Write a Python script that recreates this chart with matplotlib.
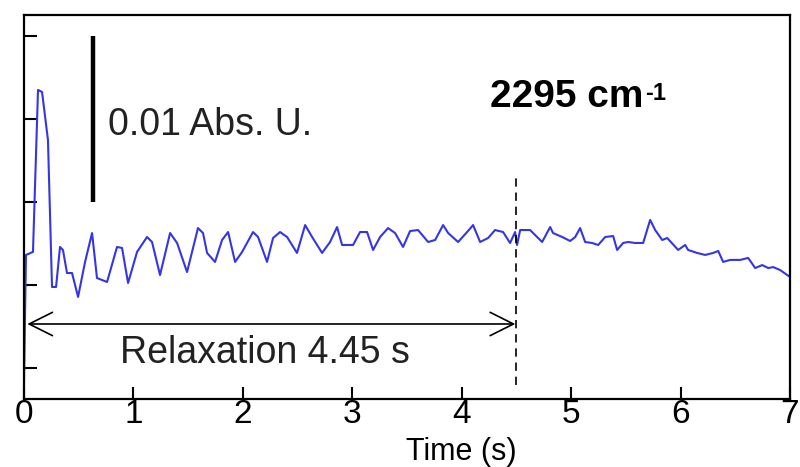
import matplotlib
matplotlib.use("Agg")
import matplotlib.pyplot as plt

plt.rcParams['font.family'] = ['Liberation Sans', 'DejaVu Sans']

# time (s) and absorbance change (mAbs, arbitrary offset)
t = [0.000, 0.018, 0.082, 0.128, 0.165, 0.219, 0.256, 0.293, 0.329, 0.356,
     0.393, 0.439, 0.494, 0.558, 0.622, 0.667, 0.759, 0.850, 0.896, 0.951,
     1.033, 1.124, 1.170, 1.243, 1.335, 1.399, 1.490, 1.590, 1.636, 1.673,
     1.746, 1.810, 1.865, 1.929, 1.993, 2.093, 2.139, 2.221, 2.276, 2.340,
     2.404, 2.495, 2.569, 2.633, 2.724, 2.797, 2.861, 2.907, 3.007, 3.071,
     3.135, 3.190, 3.254, 3.327, 3.391, 3.464, 3.528, 3.601, 3.693, 3.757,
     3.830, 3.876, 3.967, 4.049, 4.104, 4.168, 4.241, 4.305, 4.378, 4.442,
     4.488, 4.506, 4.534, 4.625, 4.735, 4.808, 4.835, 4.918, 4.991, 5.037,
     5.082, 5.128, 5.192, 5.247, 5.311, 5.384, 5.420, 5.475, 5.521, 5.585,
     5.658, 5.722, 5.768, 5.832, 5.878, 5.978, 6.042, 6.069, 6.152, 6.225,
     6.298, 6.344, 6.389, 6.453, 6.545, 6.618, 6.682, 6.746, 6.801, 6.846,
     6.910, 6.974, 7.002]
absorb = [-0.84, 6.81, 6.99, 16.75, 16.63, 13.73, 4.88, 4.88, 7.29, 7.11,
          5.72, 5.72, 4.28, 6.39, 8.13, 5.42, 5.18, 7.29, 7.23, 5.12,
          6.99, 7.89, 7.59, 5.60, 8.13, 7.53, 5.78, 8.43, 8.13, 6.93,
          6.39, 7.71, 8.19, 6.39, 6.99, 8.19, 7.89, 6.39, 7.83, 8.19,
          7.89, 6.93, 8.61, 7.89, 6.93, 7.59, 8.49, 7.41, 7.41, 8.19,
          8.19, 7.11, 7.89, 8.43, 8.13, 7.29, 8.25, 8.31, 7.59, 7.71,
          8.61, 8.13, 7.59, 8.19, 8.61, 7.59, 7.83, 8.31, 8.19, 7.53,
          8.19, 7.41, 8.31, 8.31, 7.59, 8.49, 8.13, 7.89, 7.65, 7.89,
          8.43, 7.59, 7.53, 7.41, 7.89, 7.95, 7.11, 7.53, 7.59, 7.53,
          7.53, 8.92, 8.31, 7.71, 7.83, 7.11, 7.41, 7.11, 6.93, 6.81,
          6.93, 7.05, 6.39, 6.51, 6.51, 6.63, 6.02, 6.20, 6.02, 6.08,
          5.90, 5.60, 5.48]

relax_end = 4.5
scale_bar = [10, 20]   # 0.01 Abs. U.
xticks = [0, 1, 2, 3, 4, 5, 6, 7]
yticks = [0, 5, 10, 15, 20]

fig = plt.figure(figsize=(8, 4.67), dpi=100)
ax = fig.add_axes([0.03, 0.1456, 0.9575, 0.8224])

ax.plot(t, absorb, color='#3535e6', lw=1.5)

# relaxation marker
ax.plot([relax_end, relax_end], [-1.0, 11.6], color='black', ls=(0, (5, 3.5)), lw=1.2)
ax.annotate('', xy=(0.03, 2.65), xytext=(relax_end - 0.01, 2.65),
            arrowprops=dict(arrowstyle='<->', color='black', lw=1.2,
                            mutation_scale=42, shrinkA=0, shrinkB=0))
ax.text(2.2, 0.9, 'Relaxation 4.45 s', ha='center', va='center',
        fontsize=27, color='#222222')

# scale bar
ax.plot([0.63, 0.63], scale_bar, color='black', lw=3.2, solid_capstyle='butt')
ax.text(0.77, 14.64, '0.01 Abs. U.', ha='left', va='center', fontsize=27,
        color='#222222')
wn = ax.text(4.26, 16.3, '2295 cm', ha='left', va='center',
             fontsize=28, fontweight='bold', color='black')
ax.annotate('-1', xy=(1, 1), xycoords=wn, xytext=(1, -2), textcoords='offset points',
            ha='left', va='top', fontsize=17, fontweight='bold', color='black')

ax.set_xlim(0, 7)
ax.set_ylim(-1.87, 21.27)
ax.set_xticks(xticks)
ax.set_xticklabels([str(v) for v in xticks], fontsize=24)
ax.set_yticks(yticks)
ax.set_yticklabels([])
ax.tick_params(direction='in', length=9, width=1.5, pad=0)
for s in ax.spines.values():
    s.set_linewidth(1.6)

ax.text(4.0, -5.05, 'Time (s)', ha='center', va='center', fontsize=22)

fig.savefig('out.png', dpi=100)
